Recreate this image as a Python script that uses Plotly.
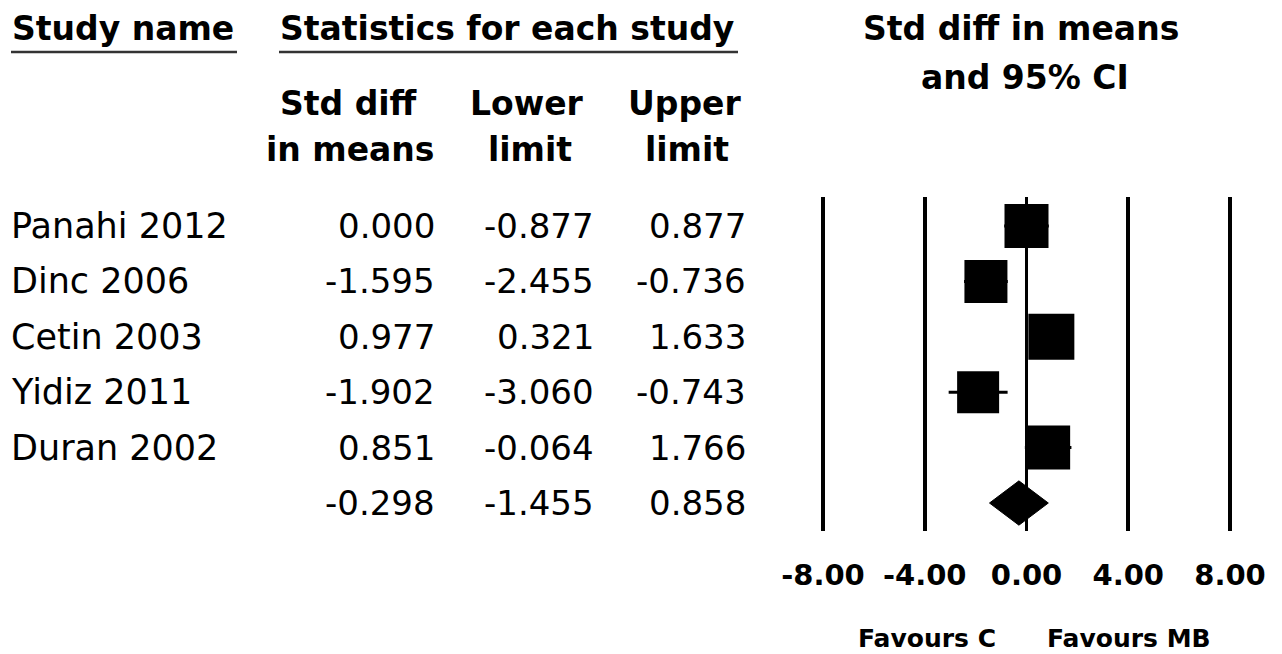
import plotly.graph_objects as go

# ---------------- data ----------------
studies = ["Panahi 2012", "Dinc 2006", "Cetin 2003", "Yidiz 2011", "Duran 2002"]
smd = [0.000, -1.595, 0.977, -1.902, 0.851]
lower = [-0.877, -2.455, 0.321, -3.060, -0.064]
upper = [0.877, -0.736, 1.633, -0.743, 1.766]
summary_smd = -0.298
summary_lower = -1.455
summary_upper = 0.858
tick_values = [-8, -4, 0, 4, 8]
tick_labels = ["-8.00", "-4.00", "0.00", "4.00", "8.00"]
favour_labels = ["Favours C", "Favours MB"]

# ---------------- style ----------------
W, H = 1282, 654
square_sizes = [44, 43, 46, 42, 44]
FONT = "DejaVu Sans"
BOLD = "<b>{}</b>"

def px(x):
    return x / W

def py(y):
    return 1 - y / H

n = len(studies)
rows = list(range(n))
summary_row = n

fig = go.Figure()

# study squares with CI whiskers
fig.add_trace(go.Scatter(
    x=smd, y=rows, mode="markers",
    marker=dict(symbol="square", size=square_sizes, color="black", opacity=1,
                line=dict(width=0)),
    error_x=dict(type="data", symmetric=False,
                 array=[u - m for u, m in zip(upper, smd)],
                 arrayminus=[m - l for m, l in zip(smd, lower)],
                 color="black", thickness=3, width=0),
    hoverinfo="skip", showlegend=False, cliponaxis=False,
))

# summary diamond
half_h = 0.40
fig.add_trace(go.Scatter(
    x=[summary_lower, summary_smd, summary_upper, summary_smd, summary_lower],
    y=[summary_row, summary_row - half_h, summary_row, summary_row + half_h, summary_row],
    mode="lines", fill="toself", fillcolor="black",
    line=dict(color="black", width=1),
    hoverinfo="skip", showlegend=False,
))

ann = []
def add(text, x, y, size, bold=False, xanchor="center", yref="paper", xref="paper",
        yanchor="middle"):
    ann.append(dict(text=BOLD.format(text) if bold else text, x=x, y=y,
                    xref=xref, yref=yref, xanchor=xanchor, yanchor=yanchor,
                    showarrow=False, borderpad=0,
                    font=dict(family=FONT, size=size, color="black")))

# headers
add("Study name", px(11), py(28), 33, True, "left")
add("Statistics for each study", px(279), py(28), 33, True, "left")
add("Std diff", px(349), py(104), 33, True)
add("in means", px(350), py(149), 33, True)
add("Lower", px(527), py(104), 33, True)
add("limit", px(530), py(149), 33, True)
add("Upper", px(684), py(104), 33, True)
add("limit", px(687), py(149), 33, True)
add("Std diff in means", px(1021), py(28), 33, True)
add("and 95% CI", px(1025), py(78), 33, True)

# table rows
col_right = [px(436), px(595), px(747)]
for i, name in enumerate(studies):
    add(name, px(10), i, 35, False, "left", yref="y")
    for c, v in zip(col_right, [smd[i], lower[i], upper[i]]):
        add(f"{v:.3f}", c, i, 34, False, "right", yref="y")
for c, v in zip(col_right, [summary_smd, summary_lower, summary_upper]):
    add(f"{v:.3f}", c, summary_row, 34, False, "right", yref="y")

# favours labels
add(favour_labels[0], px(927), 0, 25, True, yanchor="bottom")
add(favour_labels[1], px(1129), 0, 25, True, yanchor="bottom")

shapes = [
    dict(type="line", xref="paper", yref="paper", x0=px(11), x1=px(237), y0=py(52), y1=py(52),
         line=dict(color="#333333", width=2.5)),
    dict(type="line", xref="paper", yref="paper", x0=px(279), x1=px(738), y0=py(52), y1=py(52),
         line=dict(color="#333333", width=2.5)),
]

# axis geometry: -8 -> 823px, 8 -> 1230px
x_left_px, x_right_px = 823, 1230
pad = 0.5
unit = (x_right_px - x_left_px) / (tick_values[-1] - tick_values[0])
dom_l = px(x_left_px - pad * unit)
dom_r = px(x_right_px + pad * unit)
top_px, bot_px = 197, 531

fig.update_layout(
    width=W, height=H, autosize=False,
    margin=dict(l=0, r=0, t=0, b=0, pad=0),
    paper_bgcolor="white", plot_bgcolor="white",
    xaxis=dict(domain=[dom_l, dom_r], range=[tick_values[0] - pad, tick_values[-1] + pad],
               tickvals=tick_values, ticktext=[BOLD.format(t) for t in tick_labels],
               showgrid=True, gridcolor="black", gridwidth=3.5,
               zeroline=True, zerolinecolor="black", zerolinewidth=2.5,
               showline=False, ticks="", ticklabelstandoff=24, automargin=False,
               tickfont=dict(family=FONT, size=29, color="black"), fixedrange=True),
    yaxis=dict(domain=[py(bot_px), py(top_px)], range=[summary_row + 0.505, -0.523],
               showgrid=False, zeroline=False, showticklabels=False, showline=False,
               ticks="", fixedrange=True, automargin=False),
    annotations=ann, shapes=shapes, showlegend=False,
)

fig.write_html("out.html")
